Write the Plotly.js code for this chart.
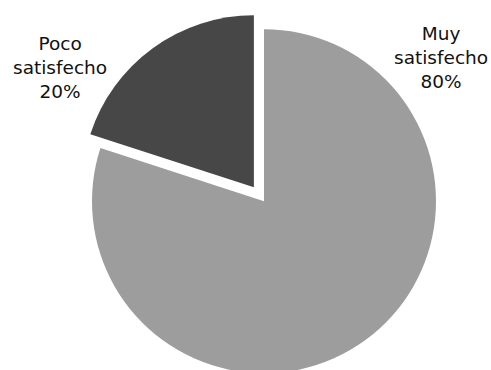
<!DOCTYPE html>
<html>
<head>
<meta charset="utf-8">
<script src="https://cdn.plot.ly/plotly-3.0.1.min.js"></script>
<style>
html,body{margin:0;padding:0;overflow:hidden;background:#fff;}
#chart{width:491px;height:392px;}
</style>
</head>
<body>
<div id="chart"></div>
<script>
const categories = ["Muy satisfecho", "Poco satisfecho"];
const values = [80, 20];
const colors = ["#9d9d9d", "#474747"];
const pulls = [0, 0.1];
const labelPos = [{x: 441, y: 57}, {x: 60, y: 67}];

const H = 392, W = 491;
function py(y){ return 1 - y / H; }

const trace = {
  type: "pie",
  labels: categories,
  values: values,
  sort: false,
  direction: "clockwise",
  rotation: 0,
  pull: pulls,
  marker: {colors: colors, line: {width: 0}},
  textinfo: "none",
  hoverinfo: "label+percent",
  showlegend: false,
  domain: {x: [74.8 / W, 453.2 / W], y: [py(390.6), py(11.8)]}
};

const annotations = categories.map((c, i) => {
  const words = c.split(" ");
  return {
    text: words[0] + "<br>" + words.slice(1).join(" ") + "<br>" + values[i] + "%",
    x: labelPos[i].x / W, y: py(labelPos[i].y), xref: "paper", yref: "paper",
    xanchor: "center", yanchor: "middle", showarrow: false, align: "center",
    font: {family: "DejaVu Sans", size: 18.5, color: "#111111"}
  };
});

Plotly.newPlot("chart", [trace], {
  width: W, height: H,
  margin: {l: 0, r: 0, t: 0, b: 0},
  paper_bgcolor: "#ffffff",
  annotations: annotations
}, {displayModeBar: false, staticPlot: true});
</script>
</body>
</html>
